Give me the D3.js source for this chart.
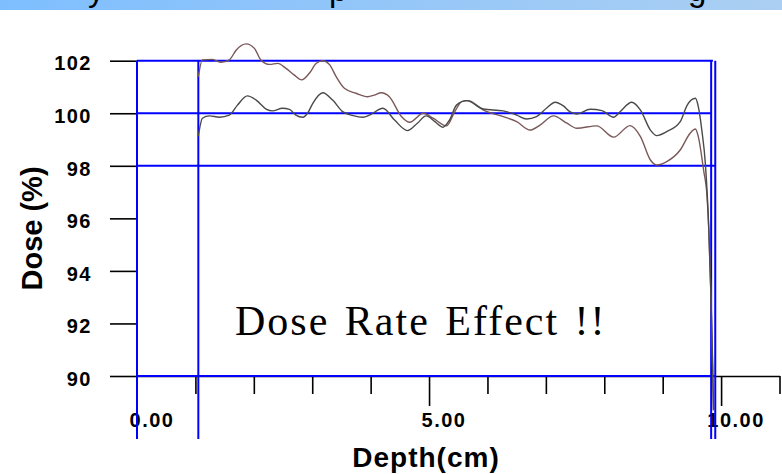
<!DOCTYPE html>
<html>
<head>
<meta charset="utf-8">
<script src="https://cdn.jsdelivr.net/npm/d3@7"></script>
<style>
  body { margin: 0; background: #fff; }
  svg { display: block; }
</style>
</head>
<body>
<div id="chart"></div>
<script>
// depth (cm) and dose (%)
var depthGray = [1.05, 1.12, 1.24, 1.41, 1.58, 1.72, 1.89, 2.04, 2.21, 2.32, 2.49, 2.61, 2.72, 2.84, 2.92, 3.01, 3.18, 3.35, 3.52, 3.70, 3.87, 3.98, 4.21, 4.41, 4.63, 4.80, 4.95, 5.10, 5.24, 5.35, 5.47, 5.64, 5.93, 6.27, 6.50, 6.67, 6.84, 7.01, 7.16, 7.30, 7.41, 7.53, 7.76, 7.96, 8.16, 8.27, 8.47, 8.62, 8.79, 8.90, 9.07, 9.30, 9.42, 9.56, 9.61, 9.67, 9.73, 9.79, 9.82, 9.85, 9.87];
var doseGray = [99.13, 99.81, 99.90, 99.85, 99.93, 100.31, 100.66, 100.50, 100.16, 100.09, 100.19, 100.15, 99.93, 99.85, 100.00, 100.38, 100.78, 100.50, 100.06, 99.91, 99.85, 99.93, 100.19, 99.74, 99.34, 99.62, 99.90, 99.68, 99.47, 99.74, 100.31, 100.48, 100.16, 100.09, 99.93, 99.78, 99.87, 100.19, 100.42, 100.28, 100.06, 99.97, 100.15, 100.10, 99.85, 100.06, 100.42, 100.12, 99.36, 99.15, 99.30, 99.68, 100.31, 100.57, 100.25, 99.36, 98.10, 95.56, 93.5, 91.0, 88.7];

var depthBrown = [1.05, 1.12, 1.29, 1.44, 1.58, 1.70, 1.87, 2.01, 2.12, 2.27, 2.41, 2.55, 2.69, 2.82, 2.95, 3.07, 3.18, 3.30, 3.41, 3.55, 3.75, 3.95, 4.06, 4.18, 4.32, 4.53, 4.67, 4.90, 5.07, 5.30, 5.44, 5.56, 5.67, 5.93, 6.27, 6.50, 6.73, 6.90, 7.13, 7.36, 7.53, 7.87, 8.16, 8.44, 8.62, 8.79, 8.90, 9.07, 9.30, 9.47, 9.56, 9.61, 9.70, 9.76, 9.79, 9.83, 9.86, 9.87];
var doseBrown = [101.39, 102.03, 102.05, 101.94, 102.03, 102.41, 102.64, 102.47, 102.03, 101.86, 101.90, 101.71, 101.46, 101.27, 101.52, 101.90, 102.00, 101.84, 101.39, 100.95, 100.76, 100.63, 100.69, 100.78, 100.63, 99.87, 99.66, 100.00, 99.81, 99.52, 100.06, 100.44, 100.48, 100.12, 99.87, 99.68, 99.36, 99.55, 99.90, 99.62, 99.43, 99.52, 99.09, 99.53, 99.11, 98.22, 98.03, 98.16, 98.60, 99.24, 99.40, 99.11, 97.84, 96.82, 95.56, 92.8, 89.8, 88.7];

// tick labels
var doseTicks = [90, 92, 94, 96, 98, 100, 102];
var depthTicks = [1, 2, 3, 4, 5, 6, 7, 8, 9, 10, 11];
var depthLabels = [0, 5, 10];

// blue guide lines
var guideDoses = [102, 100, 98, 90];
var guideEnds = [9.86, 9.83, 9.90, 9.90];
var guideDepths = [0, 1.05, 9.83, 9.90];
var guideBottom = 87.6;

var w = 782, h = 474;

var svg = d3.select("#chart").append("svg")
    .attr("width", w)
    .attr("height", h);

// banner strip at the top
var grad = svg.append("defs").append("linearGradient")
    .attr("id", "band")
    .attr("x1", "0%").attr("x2", "100%");
grad.append("stop").attr("offset", "0%").attr("stop-color", "#7ebeff");
grad.append("stop").attr("offset", "100%").attr("stop-color", "#abcff2");
svg.append("rect")
    .attr("x", 0).attr("y", 0)
    .attr("width", w).attr("height", 10)
    .attr("fill", "url(#band)");
[["y", 88], ["p", 329], ["g", 688]].forEach(function (c) {
    svg.append("text")
        .attr("x", c[1]).attr("y", 0.5)
        .style("font-family", "Liberation Sans, Arial, sans-serif")
        .style("font-size", "33px")
        .text(c[0]);
});

var x = d3.scaleLinear().domain([0, 11]).range([137, 779.5]);
var y = d3.scaleLinear().domain([90, 102]).range([376, 60.7]);

var labelFont = "Liberation Sans, Arial, sans-serif";

// x axis (black)
var gx = svg.append("g")
    .attr("transform", "translate(0," + y(90) + ")")
    .call(d3.axisBottom(x).tickValues(depthTicks).tickSize(18).tickSizeOuter(0).tickFormat(""));
gx.select(".domain").attr("stroke", "#000").attr("stroke-width", 1.6);
gx.selectAll(".tick line")
    .attr("stroke", "#000")
    .attr("stroke-width", 1.6)
    .attr("y2", function (d) { return d % 5 === 0 ? 30 : 18; });

svg.selectAll(".xlab")
    .data(depthLabels)
    .enter()
    .append("text")
    .attr("class", "xlab")
    .attr("x", function (d) { return x(d) + 15; })
    .attr("y", 427)
    .attr("text-anchor", "middle")
    .style("font-family", labelFont)
    .style("font-weight", "bold")
    .style("font-size", "20px")
    .style("letter-spacing", "1.5px")
    .text(d3.format(".2f"));

// y axis ticks (black)
var gy = svg.append("g")
    .attr("transform", "translate(" + x(0) + ",0)")
    .call(d3.axisLeft(y).tickValues(doseTicks).tickSize(27).tickSizeOuter(0).tickPadding(18));
gy.select(".domain").remove();
gy.selectAll(".tick line").attr("stroke", "#000").attr("stroke-width", 1.6);
gy.selectAll(".tick text")
    .attr("dy", "0.46em")
    .style("font-family", labelFont)
    .style("font-weight", "bold")
    .style("font-size", "20px")
    .style("letter-spacing", "1.5px")
    .attr("fill", "#000");

// blue guide lines
svg.selectAll(".hguide")
    .data(guideDoses)
    .enter()
    .append("line")
    .attr("class", "hguide")
    .attr("x1", x(0))
    .attr("x2", function (d, i) { return x(guideEnds[i]); })
    .attr("y1", function (d) { return y(d); })
    .attr("y2", function (d) { return y(d); })
    .attr("stroke", "#0000ff")
    .attr("stroke-width", 2);

svg.selectAll(".vguide")
    .data(guideDepths)
    .enter()
    .append("line")
    .attr("class", "vguide")
    .attr("x1", function (d) { return x(d); })
    .attr("x2", function (d) { return x(d); })
    .attr("y1", y(102))
    .attr("y2", y(guideBottom))
    .attr("stroke", "#0000ff")
    .attr("stroke-width", 2);

// dose curves
var line = d3.line()
    .x(function (d) { return x(d[0]); })
    .y(function (d) { return y(d[1]); })
    .curve(d3.curveMonotoneX);

svg.append("path")
    .datum(d3.zip(depthBrown, doseBrown))
    .attr("d", line)
    .attr("fill", "none")
    .attr("stroke", "#7a5858")
    .attr("stroke-width", 1.4);

svg.append("path")
    .datum(d3.zip(depthGray, doseGray))
    .attr("d", line)
    .attr("fill", "none")
    .attr("stroke", "#4a4a4a")
    .attr("stroke-width", 1.4);

// axis titles
svg.append("text")
    .attr("transform", "translate(42,228.5) rotate(-90)")
    .attr("text-anchor", "middle")
    .style("font-family", labelFont)
    .style("font-weight", "bold")
    .style("font-size", "29px")
    .text("Dose (%)");

svg.append("text")
    .attr("x", 426)
    .attr("y", 467)
    .attr("text-anchor", "middle")
    .style("font-family", labelFont)
    .style("font-weight", "bold")
    .style("font-size", "28px")
    .style("letter-spacing", "1px")
    .text("Depth(cm)");

// annotation
svg.append("text")
    .attr("x", 235)
    .attr("y", 335)
    .style("font-family", "Liberation Serif, Times New Roman, serif")
    .style("font-size", "42px")
    .style("letter-spacing", "2px")
    .style("word-spacing", "3px")
    .text("Dose Rate Effect !!");
</script>
</body>
</html>
